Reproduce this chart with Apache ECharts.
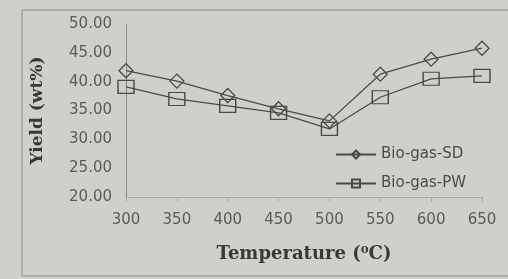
<!DOCTYPE html>
<html>
<head>
<meta charset="utf-8">
<script src="https://cdn.jsdelivr.net/npm/echarts@6/dist/echarts.min.js"></script>
<style>
  html, body { margin: 0; padding: 0; background: #cfcfcb; }
  #chart { width: 508px; height: 279px; }
</style>
</head>
<body>
<div id="chart"></div>
<script>
var temps = ['300', '350', '400', '450', '500', '550', '600', '650'];
var bioGasSD = [41.9, 40.1, 37.6, 35.3, 33.2, 41.3, 43.9, 45.8];
var bioGasPW = [39.1, 37.0, 35.8, 34.6, 31.8, 37.3, 40.5, 41.0];

var myChart = echarts.init(document.getElementById('chart'));

var lineColor = '#4a4a48';
var textColor = '#5a5a58';

option = {
    backgroundColor: '#cfcfcb',
    graphic: [{
        type: 'rect',
        shape: { x: 22, y: 10, width: 490, height: 266 },
        style: { fill: 'none', stroke: '#8a8a86', lineWidth: 1 },
        silent: true
    }],
    grid: {
        left: 126,
        right: 26,
        top: 24,
        bottom: 82
    },
    legend: {
        orient: 'vertical',
        left: 330,
        top: 142,
        itemWidth: 40,
        itemHeight: 10,
        itemGap: 14,
        textStyle: { color: '#4a4a48', fontSize: 15, fontFamily: 'DejaVu Sans' },
        data: ['Bio-gas-SD', 'Bio-gas-PW']
    },
    xAxis: {
        type: 'category',
        boundaryGap: false,
        data: temps,
        name: 'Temperature (\u2070C)',
        nameLocation: 'middle',
        nameGap: 48,
        nameTextStyle: {
            fontFamily: 'DejaVu Serif',
            fontWeight: 'bold',
            fontSize: 18,
            color: '#383836'
        },
        axisLine: { lineStyle: { color: '#a8a8a4' } },
        axisTick: { show: true, length: 5, lineStyle: { color: '#a8a8a4' } },
        axisLabel: { color: textColor, fontSize: 15, fontFamily: 'DejaVu Sans', margin: 16 },
        splitLine: { show: false }
    },
    yAxis: {
        type: 'value',
        min: 20,
        max: 50,
        interval: 5,
        name: 'Yield (wt%)',
        nameLocation: 'middle',
        nameGap: 80,
        nameRotate: 90,
        nameTextStyle: {
            fontFamily: 'DejaVu Serif',
            fontWeight: 'bold',
            fontSize: 17,
            color: '#383836'
        },
        axisLine: { show: true, lineStyle: { color: '#8a8a86' } },
        axisTick: { show: false },
        axisLabel: {
            color: textColor,
            fontSize: 15,
            fontFamily: 'DejaVu Sans',
            margin: 14,
            formatter: function (v) { return v.toFixed(2); }
        },
        splitLine: { show: false }
    },
    series: [{
        name: 'Bio-gas-SD',
        type: 'line',
        data: bioGasSD,
        symbol: 'diamond',
        symbolSize: 14,
        showAllSymbol: true,
        lineStyle: { color: lineColor, width: 1.3 },
        itemStyle: { color: 'rgba(0,0,0,0)', borderColor: lineColor, borderWidth: 1.3 }
    }, {
        name: 'Bio-gas-PW',
        type: 'line',
        data: bioGasPW,
        symbol: 'rect',
        symbolSize: [16, 13],
        showAllSymbol: true,
        lineStyle: { color: lineColor, width: 1.3 },
        itemStyle: { color: 'rgba(0,0,0,0)', borderColor: lineColor, borderWidth: 1.3 }
    }]
};

myChart.setOption(option);
</script>
</body>
</html>
